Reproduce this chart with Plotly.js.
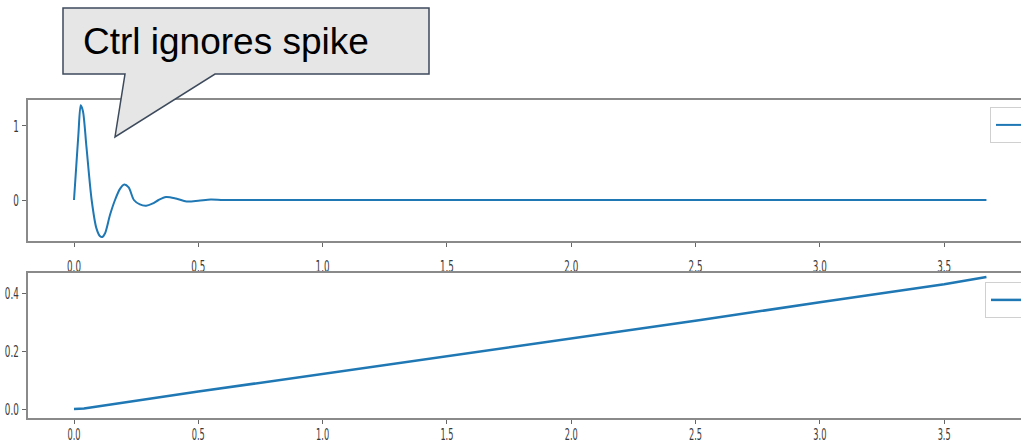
<!DOCTYPE html>
<html>
<head>
<meta charset="utf-8">
<script src="https://cdn.plot.ly/plotly-3.0.1.min.js"></script>
<style>html,body{margin:0;padding:0;background:#fff;}#chart{width:1021px;height:445px;}</style>
</head>
<body>
<div id="chart"></div>
<script>
// ---- data ----
const ctrlTime = [0, 0.009, 0.018, 0.027, 0.036, 0.05, 0.071, 0.09, 0.105, 0.114, 0.125, 0.145, 0.165, 0.185, 0.202, 0.22, 0.241, 0.265, 0.29, 0.315, 0.34, 0.37, 0.41, 0.453, 0.5, 0.55, 0.6, 0.7, 1.5, 2.5, 3.67];
const ctrlValue = [0, 0.45, 0.9, 1.28, 1.2, 0.72, 0, -0.38, -0.49, -0.5, -0.45, -0.2, 0, 0.15, 0.21, 0.17, 0, -0.06, -0.077, -0.05, 0.0, 0.04, 0.02, -0.02, -0.01, 0.008, 0, 0, 0, 0, 0];
const posTime = [0, 0.04, 0.5, 0.91, 1.25, 1.71, 2.1, 2.52, 3.0, 3.5, 3.67];
const posValue = [0, 0.002, 0.06, 0.11, 0.152, 0.206, 0.255, 0.307, 0.368, 0.43, 0.455];
const xTickVals = [0, 0.5, 1, 1.5, 2, 2.5, 3, 3.5];
const xTickText = ['0.0', '0.5', '1.0', '1.5', '2.0', '2.5', '3.0', '3.5'];
const topTickVals = [0, 1];
const topTickText = ['0', '1'];
const botTickVals = [0, 0.2, 0.4];
const botTickText = ['0.0', '0.2', '0.4'];
const seriesNames = ['i_ctrl', 'Pos'];
const calloutText = 'Ctrl ignores spike';

// ---- layout helpers ----
const W = 1021, H = 445;
const px = v => v / W;
const py = v => 1 - v / H;
const tickFont = {family: 'DejaVu Sans, sans-serif', size: 16, color: '#3a3a3a'};
const blue = '#1f77b4';

const traces = [
  {x: ctrlTime, y: ctrlValue, xaxis: 'x', yaxis: 'y', type: 'scatter', mode: 'lines',
   line: {color: blue, width: 2, shape: 'spline', smoothing: 0.8}, name: seriesNames[0], legend: 'legend'},
  {x: posTime, y: posValue, xaxis: 'x2', yaxis: 'y2', type: 'scatter', mode: 'lines',
   line: {color: blue, width: 2.5}, name: seriesNames[1], legend: 'legend2'}
];

const axisCommon = {
  showline: true, linecolor: '#8a8a8a', linewidth: 2, showgrid: false, zeroline: false,
  ticks: 'outside', ticklen: 4, tickwidth: 1, tickcolor: '#666', tickfont: tickFont,
  fixedrange: true
};

const path = [
  [63, 8], [429, 8], [429, 74], [215, 74], [115, 137], [125, 74], [63, 74]
].map((p, i) => (i === 0 ? 'M' : 'L') + px(p[0]).toFixed(5) + ',' + py(p[1]).toFixed(5)).join(' ') + ' Z';

const legendFont = {family: 'DejaVu Sans', size: 16, color: '#333'};

const layout = {
  width: W, height: H,
  margin: {l: 0, r: 0, t: 0, b: 0, pad: 0, autoexpand: false},
  paper_bgcolor: '#fff', plot_bgcolor: '#fff',
  showlegend: true,
  xaxis: Object.assign({}, axisCommon, {domain: [px(28), 1], range: [-0.185, 3.809], mirror: true,
    tickvals: xTickVals, ticktext: xTickText, anchor: 'y', ticklabelstandoff: 6}),
  yaxis: Object.assign({}, axisCommon, {domain: [py(241), py(100)], range: [-0.554, 1.351],
    tickvals: topTickVals, ticktext: topTickText, anchor: 'x'}),
  xaxis2: Object.assign({}, axisCommon, {domain: [px(28), 1], range: [-0.185, 3.809], mirror: true,
    tickvals: xTickVals, ticktext: xTickText, anchor: 'y2', ticklabelstandoff: -2,
    tickfont: {family: 'DejaVu Sans, sans-serif', size: 15, color: '#3a3a3a'}}),
  yaxis2: Object.assign({}, axisCommon, {domain: [py(418), py(273)], range: [-0.031, 0.469],
    tickvals: botTickVals, ticktext: botTickText, anchor: 'x2'}),
  legend: {x: px(990), y: py(107), xanchor: 'left', yanchor: 'top', bgcolor: '#fff',
    bordercolor: '#d0d0d0', borderwidth: 1, font: legendFont},
  legend2: {x: px(985), y: py(282), xanchor: 'left', yanchor: 'top', bgcolor: '#fff',
    bordercolor: '#d0d0d0', borderwidth: 1, font: legendFont},
  shapes: [
    {type: 'path', xref: 'paper', yref: 'paper', path: path, fillcolor: '#e6e6e6',
     line: {color: '#3d4a5c', width: 1.5}, layer: 'above'}
  ],
  annotations: [
    {xref: 'paper', yref: 'paper', x: px(81), y: py(42), xanchor: 'left', yanchor: 'middle',
     text: calloutText, showarrow: false,
     font: {family: 'Liberation Sans, Arial, sans-serif', size: 37, color: '#000'}}
  ]
};

// the reference's tick labels are horizontally squeezed; narrow them in place
function squeezeTicks() {
  const s = 0.55;
  document.querySelectorAll('#chart .xtick text, #chart .ytick text, #chart .x2tick text, #chart .y2tick text')
    .forEach(t => {
      const x = parseFloat(t.getAttribute('x') || '0');
      const tr = t.getAttribute('transform') || '';
      t.setAttribute('transform', tr + ' translate(' + x + ',0) scale(' + s + ',1) translate(' + (-x) + ',0)');
    });
}

Plotly.newPlot('chart', traces, layout, {displayModeBar: false, staticPlot: true}).then(squeezeTicks);
</script>
</body>
</html>
